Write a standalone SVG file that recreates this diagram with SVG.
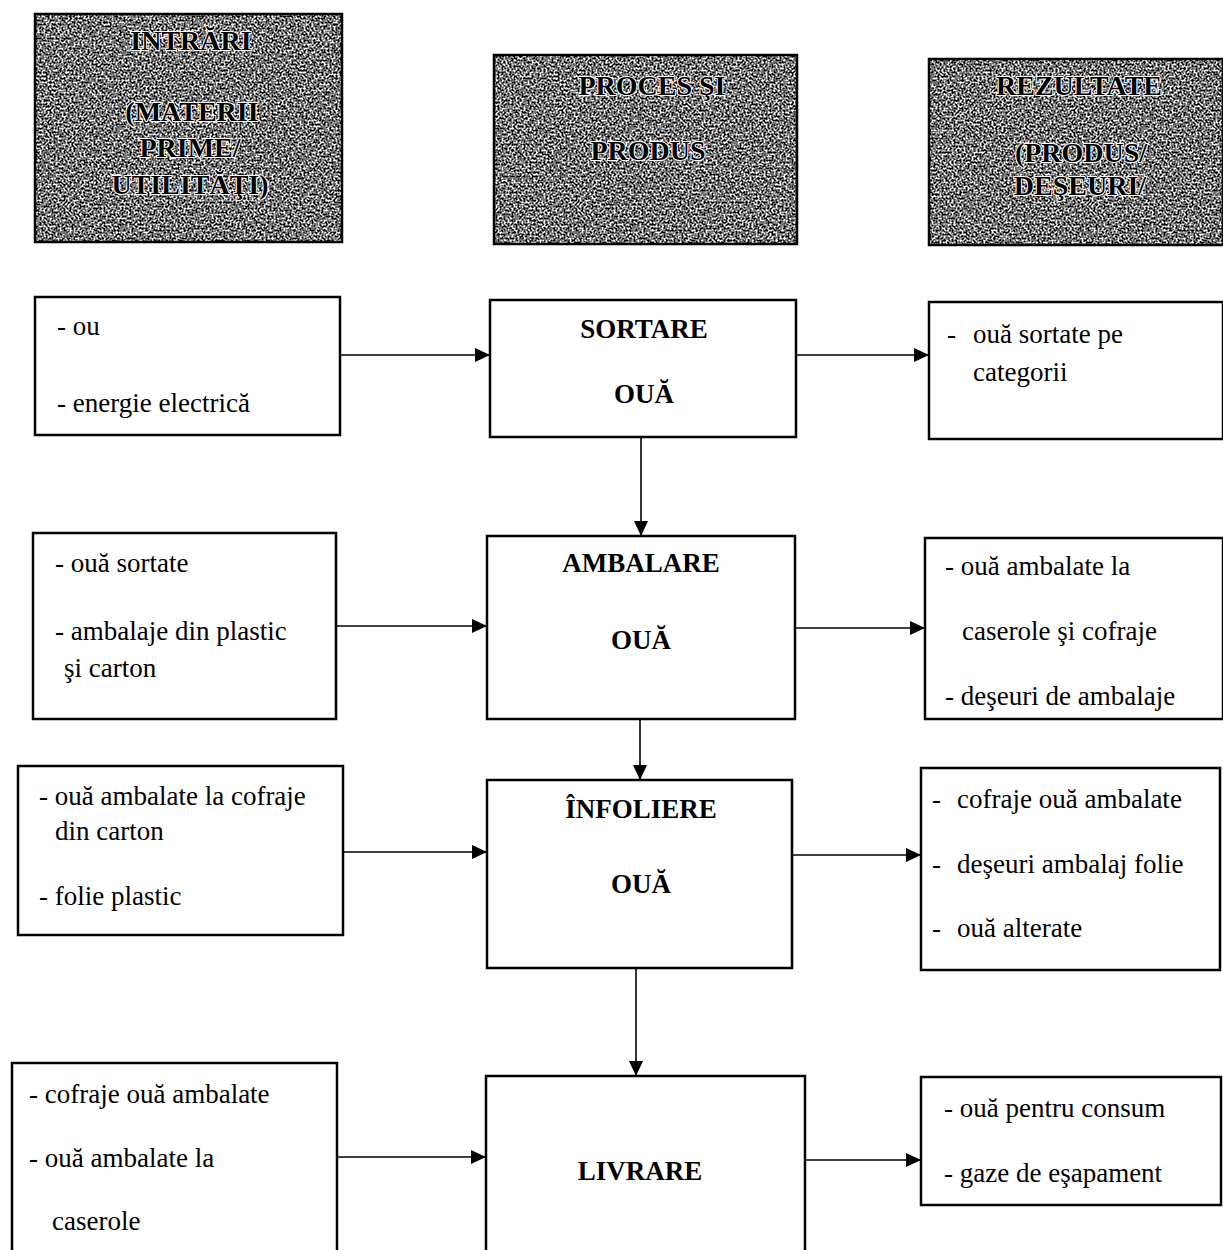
<svg xmlns="http://www.w3.org/2000/svg" width="1223" height="1250" viewBox="0 0 1223 1250">
<style>
.box{fill:#fff;stroke:#000;stroke-width:2.5}
.hdr{fill:none;stroke:#000;stroke-width:2.5}
.t{font-family:"Liberation Serif","Times New Roman",serif;font-size:27px;fill:#000}
.p{font-family:"Liberation Serif","Times New Roman",serif;font-size:27px;font-weight:bold;fill:#000;text-anchor:middle}
.h{font-family:"Liberation Serif","Times New Roman",serif;font-size:28px;font-weight:bold;fill:#000;text-anchor:middle;stroke:#fff;stroke-width:2;stroke-linejoin:round;paint-order:stroke}
.c{stroke:#000;stroke-width:1.6;fill:none;marker-end:url(#ah)}
</style>
<defs>
<marker id="ah" markerWidth="16" markerHeight="14" refX="15" refY="7" orient="auto" markerUnits="userSpaceOnUse">
<path d="M0,0 L15,7 L0,14 Z" fill="#000"/>
</marker>
<filter id="grain" x="0" y="0" width="1" height="1" color-interpolation-filters="sRGB">
<feTurbulence type="fractalNoise" baseFrequency="0.5" numOctaves="4" seed="7" result="n"/>
<feColorMatrix in="n" type="matrix" values="1 0 0 0 0  1 0 0 0 0  1 0 0 0 0  0 0 0 0 1" result="g"/>
<feComponentTransfer in="g">
<feFuncR type="linear" slope="3" intercept="-1.05"/>
<feFuncG type="linear" slope="3" intercept="-1.05"/>
<feFuncB type="linear" slope="3" intercept="-1.05"/>
</feComponentTransfer>
</filter>
</defs>
<rect width="1223" height="1250" fill="#fff"/>

<g id="hdr-intrari">
<rect x="35" y="14" width="307" height="228" fill="#808080" filter="url(#grain)"/>
<rect class="hdr" x="35" y="14" width="307" height="228"/>
<text class="h" x="191" y="50">INTRĂRI</text>
<text class="h" x="192" y="121">(MATERII</text>
<text class="h" x="190" y="157">PRIME/</text>
<text class="h" x="190" y="194">UTILITĂŢI)</text>
</g>

<g id="hdr-proces">
<rect x="494" y="55" width="303" height="189" fill="#808080" filter="url(#grain)"/>
<rect class="hdr" x="494" y="55" width="303" height="189"/>
<text class="h" x="652" y="95">PROCES  ŞI</text>
<text class="h" x="648" y="160">PRODUS</text>
</g>

<g id="hdr-rezultate">
<rect x="929" y="59" width="294" height="186" fill="#808080" filter="url(#grain)"/>
<rect class="hdr" x="929" y="59" width="294" height="186"/>
<text class="h" x="1079" y="95">REZULTATE</text>
<text class="h" x="1081" y="162">(PRODUS/</text>
<text class="h" x="1080" y="195">DEŞEURI/</text>
</g>

<g id="in-sortare">
<rect class="box" x="35" y="297" width="305" height="138"/>
<text class="t" x="57" y="335">- ou</text>
<text class="t" x="57" y="412">- energie electrică</text>
</g>

<g id="sortare">
<rect class="box" x="490" y="300" width="306" height="137"/>
<text class="p" x="644" y="338">SORTARE</text>
<text class="p" x="644" y="403">OUĂ</text>
</g>

<g id="out-sortare">
<rect class="box" x="929" y="302" width="294" height="137"/>
<text class="t" x="947" y="343">-</text>
<text class="t" x="973" y="343">ouă sortate pe</text>
<text class="t" x="973" y="381">categorii</text>
</g>

<g id="in-ambalare">
<rect class="box" x="33" y="533" width="303" height="186"/>
<text class="t" x="55" y="572">- ouă sortate</text>
<text class="t" x="55" y="640">- ambalaje din plastic</text>
<text class="t" x="64" y="677">şi  carton</text>
</g>

<g id="ambalare">
<rect class="box" x="487" y="536" width="308" height="183"/>
<text class="p" x="641" y="572">AMBALARE</text>
<text class="p" x="641" y="649">OUĂ</text>
</g>

<g id="out-ambalare">
<rect class="box" x="925" y="538" width="298" height="181"/>
<text class="t" x="945" y="575">- ouă ambalate la</text>
<text class="t" x="962" y="640">caserole şi cofraje</text>
<text class="t" x="945" y="705">- deşeuri de ambalaje</text>
</g>

<g id="in-infoliere">
<rect class="box" x="18" y="766" width="325" height="169"/>
<text class="t" x="39" y="805">- ouă ambalate la cofraje</text>
<text class="t" x="55" y="840">din carton</text>
<text class="t" x="39" y="905">- folie plastic</text>
</g>

<g id="infoliere">
<rect class="box" x="487" y="780" width="305" height="188"/>
<text class="p" x="641" y="818">ÎNFOLIERE</text>
<text class="p" x="641" y="893">OUĂ</text>
</g>

<g id="out-infoliere">
<rect class="box" x="921" y="768" width="299" height="202"/>
<text class="t" x="932" y="808">-</text>
<text class="t" x="957" y="808">cofraje ouă ambalate</text>
<text class="t" x="932" y="873">-</text>
<text class="t" x="957" y="873">deşeuri ambalaj folie</text>
<text class="t" x="932" y="937">-</text>
<text class="t" x="957" y="937">ouă alterate</text>
</g>

<g id="in-livrare">
<rect class="box" x="12" y="1063" width="325" height="200"/>
<text class="t" x="29" y="1103">- cofraje ouă ambalate</text>
<text class="t" x="29" y="1167">- ouă ambalate la</text>
<text class="t" x="52" y="1230">caserole</text>
</g>

<g id="livrare">
<rect class="box" x="486" y="1076" width="319" height="190"/>
<text class="p" x="640" y="1180">LIVRARE</text>
</g>

<g id="out-livrare">
<rect class="box" x="921" y="1077" width="300" height="128"/>
<text class="t" x="944" y="1117">- ouă pentru consum</text>
<text class="t" x="944" y="1182">- gaze de eşapament</text>
</g>

<g id="connectors">
<line class="c" x1="340" y1="355" x2="490" y2="355"/>
<line class="c" x1="796" y1="355" x2="929" y2="355"/>
<line class="c" x1="641" y1="437" x2="641" y2="536"/>
<line class="c" x1="336" y1="626" x2="487" y2="626"/>
<line class="c" x1="795" y1="628" x2="925" y2="628"/>
<line class="c" x1="640" y1="719" x2="640" y2="780"/>
<line class="c" x1="343" y1="852" x2="487" y2="852"/>
<line class="c" x1="792" y1="855" x2="921" y2="855"/>
<line class="c" x1="636" y1="968" x2="636" y2="1076"/>
<line class="c" x1="337" y1="1157" x2="486" y2="1157"/>
<line class="c" x1="805" y1="1160" x2="921" y2="1160"/>
</g>
</svg>
